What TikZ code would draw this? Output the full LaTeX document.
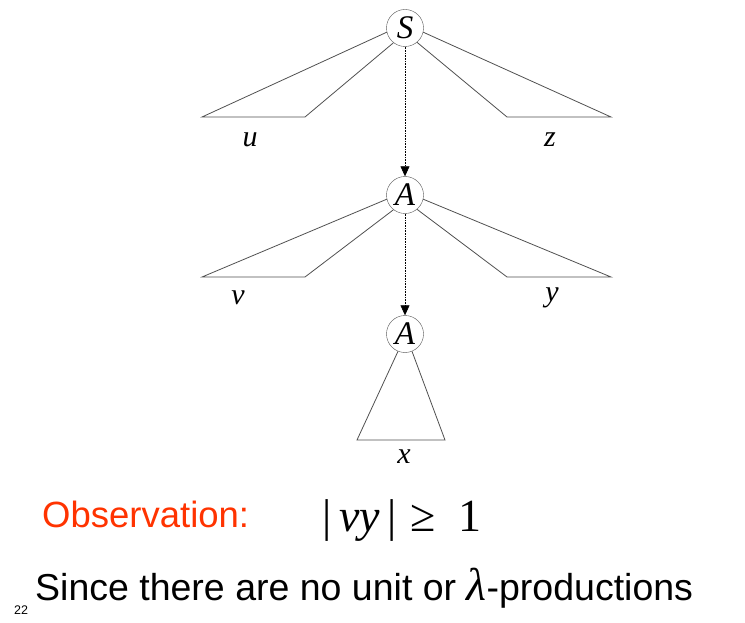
\documentclass[tikz,border=0pt]{standalone}
\usepackage{fontspec}
\setmainfont{Liberation Sans}
\newfontfamily\tnr{Liberation Serif}
\usetikzlibrary{arrows.meta}
\definecolor{obsred}{RGB}{255,51,0}
\definecolor{treegray}{RGB}{80,80,80}

\begin{document}
\begin{tikzpicture}[x=1pt,y=1pt]
\tikzstyle{every node}+=[inner sep=0pt]
\tikzstyle{var}=[draw=treegray,circle,minimum size=37pt,font=\fontsize{33}{33}\tnr\itshape]
\tikzstyle{lbl}=[font=\fontsize{30}{30}\tnr\itshape]
\tikzstyle{edge}=[draw=treegray,line width=0.8pt]
\tikzstyle{deriv}=[draw=black,densely dotted,line width=0.6pt,-{Triangle[width=9pt,length=10pt]}]
\useasboundingbox (0,0) rectangle (745,-623);
\node [var] (S) at (405,-28) {S};
\node [var] (A1) at (405,-195) {A};
\node [var] (A2) at (405,-334) {A};
\coordinate (uL) at (202,-117);
\coordinate (uR) at (305,-117);
\coordinate (zL) at (507,-117);
\coordinate (zR) at (611,-117);
\coordinate (vL) at (202,-277);
\coordinate (vR) at (305,-277);
\coordinate (yL) at (507,-277);
\coordinate (yR) at (611,-277);
\coordinate (xL) at (357,-440);
\coordinate (xR) at (445,-440);
\draw [edge] (S.193) -- (uL) -- (uR) -- (S.232);
\draw [edge] (S.-13) -- (zR) -- (zL) -- (S.-50);
\draw [edge] (A1.193) -- (vL) -- (vR) -- (A1.232);
\draw [edge] (A1.-13) -- (yR) -- (yL) -- (A1.-50);
\draw [edge] (A2.-112) -- (xL) -- (xR) -- (A2.-68);
\draw [deriv] (S.south) -- (A1.north);
\draw [deriv] (A1.south) -- (A2.north);
\node [lbl] (u) at (250,-140) {u};
\node [lbl] (z) at (550,-140) {z};
\node [lbl] (v) at (238,-298) {v};
\node [lbl] (y) at (552,-298) {y};
\node [lbl] (x) at (404,-457) {x};
\node [anchor=base west,text=obsred,font=\fontsize{36.5}{36.5}\selectfont] (obs) at (42,-527) {Observation:};
\node [anchor=base west,font=\fontsize{46}{46}\tnr] (bound) at (322,-531) {|\,\textit{vy}\,|\hspace{14pt}≥\hspace{22pt}1};
\node [anchor=base west,font=\fontsize{37.5}{37.5}\selectfont] (since) at (35,-600) {Since there are no unit or {\fontsize{46}{46}\tnr\itshape λ}-productions};
\node [anchor=base west,font=\fontsize{12.5}{12.5}\selectfont] (page) at (14,-614) {22};
\end{tikzpicture}
\end{document}
